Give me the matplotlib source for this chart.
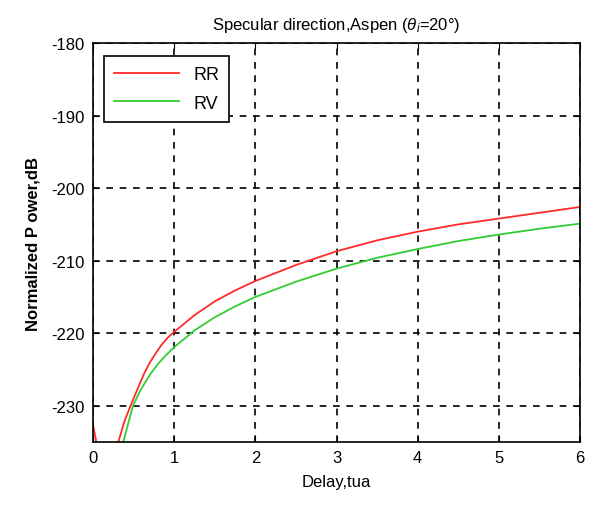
import numpy as np
import matplotlib.pyplot as plt

plt.rcParams['font.family'] = ['Liberation Sans', 'DejaVu Sans']
plt.rcParams['mathtext.fontset'] = 'custom'
plt.rcParams['mathtext.rm'] = 'Liberation Sans'
plt.rcParams['mathtext.it'] = 'Liberation Sans:italic'
plt.rcParams['axes.unicode_minus'] = False

# delay (tua) and normalized power (dB)
rr_delay = [0, 0.03, 0.06, np.nan, 0.28, 0.31, 0.38, 0.46, 0.55, 0.63, 0.7, 0.78, 0.85,
            0.92, 1.0, 1.25, 1.5, 1.75, 2, 2.5, 3, 3.5, 4, 4.5, 5, 5.5, 6]
rr_power = [-232.8, -234.5, -237, np.nan, -238, -235, -232.3, -230, -227.6, -225.5,
            -224.0, -222.6, -221.5, -220.6, -219.8, -217.5, -215.6, -214.1, -212.8,
            -210.6, -208.7, -207.2, -206.0, -205.0, -204.2, -203.4, -202.6]

rv_delay = [0.34, 0.37, 0.43, 0.49, 0.58, 0.65, 0.72, 0.8, 0.9, 1.0, 1.25, 1.5, 1.75, 2,
            2.5, 3, 3.5, 4, 4.5, 5, 5.5, 6]
rv_power = [-238, -235, -232.5, -230, -227.9, -226.6, -225.4, -224.2, -223.0, -221.9,
            -219.6, -217.8, -216.3, -215.0, -212.9, -211.1, -209.6, -208.4, -207.3,
            -206.4, -205.6, -204.9]

xticks = [0, 1, 2, 3, 4, 5, 6]
yticks = [-230, -220, -210, -200, -190, -180]

fig = plt.figure(figsize=(5.9, 5.06), dpi=100)
ax = fig.add_axes([0.158, 0.1245, 0.825, 0.7885])

ax.plot(rr_delay, rr_power, color='#ff2a2a', lw=1.3, label='RR')
ax.plot(rv_delay, rv_power, color='#33cc33', lw=1.3, label='RV')

ax.set_xlim(0, 6)
ax.set_ylim(-235, -180)
ax.set_xticks(xticks)
ax.set_yticks(yticks)
ax.tick_params(direction='in', top=True, right=True, labelsize=12, length=4, pad=6)
ax.grid(True, color='black', linestyle=(0, (4, 4)), linewidth=1.2)
for s in ax.spines.values():
    s.set_linewidth(1.2)

ax.set_title(r'Specular direction,Aspen ($\theta_i$=20°)', fontsize=12, pad=10)
ax.set_xlabel('Delay,tua', fontsize=12, labelpad=6)
ax.set_ylabel('Normalized P ower,dB', fontsize=12, fontweight='bold', labelpad=8)

leg = ax.legend(loc='upper left', fontsize=13, fancybox=False, framealpha=1,
                edgecolor='black', handlelength=3.6, borderpad=0.55, labelspacing=0.65,
                bbox_to_anchor=(0.003, 0.99))
leg.get_frame().set_linewidth(1.2)

plt.savefig('out.png', dpi=100)
